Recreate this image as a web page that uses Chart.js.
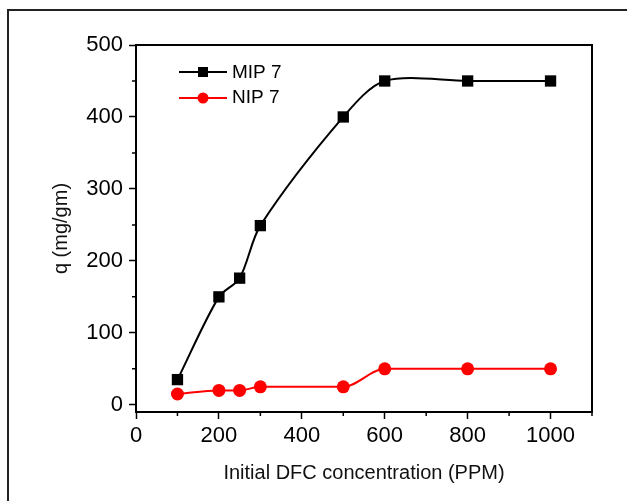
<!DOCTYPE html>
<html>
<head>
<meta charset="utf-8">
<script src="https://cdn.jsdelivr.net/npm/chart.js@4.4.1/dist/chart.umd.min.js"></script>
<style>
  html, body { margin: 0; padding: 0; background: #fff; overflow: hidden; }
  #wrap { position: relative; width: 627px; height: 501px; overflow: hidden; }
  #frame { position: absolute; left: 7px; top: 9px; width: 640px; height: 520px;
           border-left: 2px solid #222; border-top: 2px solid #222; }
  canvas { position: absolute; left: 0; top: 0; }
</style>
</head>
<body>
<div id="wrap">
  <div id="frame"></div>
  <canvas id="adsorptionChart" width="627" height="501"></canvas>
</div>
<script>
  // values
  const concentrations = [100, 200, 250, 300, 500, 600, 800, 1000];
  const mip7 = [35, 150, 176, 249, 400, 450, 450, 450];
  const nip7 = [15, 20, 20, 25, 25, 50, 50, 50];

  const xTicks = [0, 200, 400, 600, 800, 1000];
  const xMinorTicks = [100, 300, 500, 700, 900, 1100];
  const yTicks = [0, 100, 200, 300, 400, 500];
  const yMinorTicks = [50, 150, 250, 350, 450];

  const FONT = "'Liberation Sans', Arial, sans-serif";
  Chart.defaults.font.family = FONT;
  Chart.defaults.color = '#000';

  // box round the plot + short minor ticks on the left and bottom axes
  const frameAndMinor = {
    id: 'frameAndMinor',
    afterDraw(chart) {
      const {ctx, chartArea: a, scales} = chart;
      ctx.save();
      ctx.strokeStyle = '#000';
      ctx.lineWidth = 2;
      ctx.strokeRect(a.left, a.top, a.right - a.left, a.bottom - a.top);
      ctx.lineWidth = 1.5;
      ctx.beginPath();
      xMinorTicks.forEach(v => {
        const px = scales.x.getPixelForValue(v);
        ctx.moveTo(px, a.bottom);
        ctx.lineTo(px, a.bottom + 4);
      });
      yMinorTicks.forEach(v => {
        const py = scales.y.getPixelForValue(v);
        ctx.moveTo(a.left - 4, py);
        ctx.lineTo(a.left, py);
      });
      ctx.stroke();
      ctx.restore();
    }
  };

  // legend inside the plot, top left
  const insideLegend = {
    id: 'insideLegend',
    afterDraw(chart) {
      const {ctx, chartArea: a} = chart;
      const rows = [
        {label: 'MIP 7', color: '#000', shape: 'rect', y: a.top + 27, ty: a.top + 28},
        {label: 'NIP 7', color: '#ff0000', shape: 'circle', y: a.top + 53, ty: a.top + 53}
      ];
      ctx.save();
      rows.forEach(r => {
        const x0 = a.left + 43, x1 = a.left + 91, xm = (x0 + x1) / 2;
        ctx.strokeStyle = r.color;
        ctx.fillStyle = r.color;
        ctx.lineWidth = 2;
        ctx.beginPath();
        ctx.moveTo(x0, r.y);
        ctx.lineTo(x1, r.y);
        ctx.stroke();
        if (r.shape === 'rect') {
          ctx.fillRect(xm - 5, r.y - 5, 10, 10);
        } else {
          ctx.beginPath();
          ctx.arc(xm, r.y, 5.5, 0, Math.PI * 2);
          ctx.fill();
        }
        ctx.fillStyle = '#000';
        ctx.font = '19px ' + FONT;
        ctx.textBaseline = 'middle';
        ctx.textAlign = 'left';
        ctx.fillText(r.label, a.left + 96, r.ty);
      });
      ctx.restore();
    }
  };

  const ctx = document.getElementById('adsorptionChart').getContext('2d');
  const adsorptionChart = new Chart(ctx, {
    type: 'line',
    data: {
      datasets: [{
        label: 'MIP 7',
        data: concentrations.map((c, i) => ({x: c, y: mip7[i]})),
        borderColor: '#000',
        backgroundColor: '#000',
        borderWidth: 2,
        pointStyle: 'rect',
        pointRadius: 8,
        pointBorderWidth: 0,
        tension: 0.3
      }, {
        label: 'NIP 7',
        data: concentrations.map((c, i) => ({x: c, y: nip7[i]})),
        borderColor: '#ff0000',
        backgroundColor: '#ff0000',
        borderWidth: 2,
        pointStyle: 'circle',
        pointRadius: 6.5,
        pointBorderWidth: 0,
        cubicInterpolationMode: 'monotone'
      }]
    },
    options: {
      responsive: false,
      animation: false,
      layout: { padding: { top: 45, right: 35, left: 0, bottom: 0 } },
      plugins: { legend: { display: false }, tooltip: { enabled: false } },
      scales: {
        x: {
          type: 'linear',
          min: 0,
          max: 1100,
          afterBuildTicks: s => { s.ticks = xTicks.map(v => ({value: v})); },
          afterFit: s => { s.height = 89; },
          grid: { drawOnChartArea: false, drawTicks: true, tickLength: 7, tickColor: '#000', tickWidth: 1.5 },
          border: { display: true, color: '#000', width: 2 },
          ticks: { color: '#000', font: { size: 22 }, padding: 4, maxRotation: 0, autoSkip: false,
                   callback: v => String(v) },
          title: {
            display: true,
            text: 'Initial DFC concentration (PPM)',
            color: '#111',
            font: { size: 20 },
            padding: { top: 0, bottom: 16 }
          }
        },
        y: {
          min: -10,
          max: 500,
          afterBuildTicks: s => { s.ticks = yTicks.map(v => ({value: v})); },
          afterFit: s => { s.width = 136; },
          grid: { drawOnChartArea: false, drawTicks: true, tickLength: 7, tickColor: '#000', tickWidth: 1.5 },
          border: { display: true, color: '#000', width: 2 },
          ticks: { color: '#000', font: { size: 22 }, padding: 6, autoSkip: false,
                   callback: v => String(v) },
          title: {
            display: true,
            text: 'q (mg/gm)',
            color: '#111',
            font: { size: 20 },
            padding: { top: 49, bottom: 0 }
          }
        }
      }
    },
    plugins: [frameAndMinor, insideLegend]
  });
</script>
</body>
</html>
